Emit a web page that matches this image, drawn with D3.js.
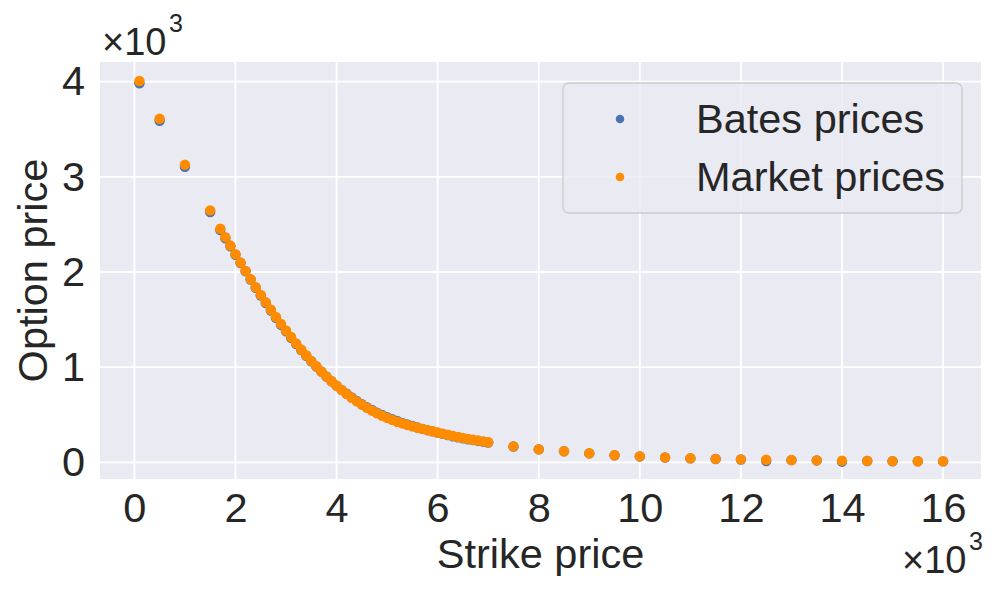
<!DOCTYPE html>
<html>
<head>
<meta charset="utf-8">
<script src="https://cdn.jsdelivr.net/npm/d3@7.9.0/dist/d3.min.js"></script>
<style>
  html, body { margin: 0; padding: 0; background: #fff; }
  svg { display: block; font-family: Arial, "Liberation Sans", sans-serif; }
  .tick text { fill: #262626; }
</style>
</head>
<body>
<div id="chart"></div>
<script>
// strike prices (x axis)
const strikes = [
  100, 500, 1000, 1500,
  1700, 1800, 1900, 2000, 2100, 2200, 2300, 2400, 2500, 2600,
  2700, 2800, 2900, 3000, 3100, 3200, 3300, 3400, 3500, 3600,
  3700, 3800, 3900, 4000, 4100, 4200, 4300, 4400, 4500, 4600,
  4700, 4800, 4900, 5000, 5100, 5200, 5300, 5400, 5500, 5600,
  5700, 5800, 5900, 6000, 6100, 6200, 6300, 6400, 6500, 6600,
  6700, 6800, 6900, 7000,
  7500, 8000, 8500, 9000, 9500, 10000, 10500, 11000, 11500, 12000,
  12500, 13000, 13500, 14000, 14500, 15000, 15500, 16000,
];

const marketPrices = [
  4007, 3611, 3128, 2648,
  2455, 2366, 2278, 2188, 2100, 2012, 1925, 1840, 1760, 1682,
  1604, 1528, 1455, 1385, 1317, 1250, 1186, 1125, 1066, 1010,
  955, 902, 852, 805, 760, 718, 678, 641, 606, 574,
  544, 516, 490, 467, 446, 427, 409, 393, 378, 364,
  351, 338, 326, 314, 302, 290, 278, 267, 257, 247,
  238, 229, 220, 211,
  168, 137, 117, 95, 75, 63, 52, 43, 36, 31,
  27, 24, 21, 18, 15, 13, 12, 11,
];

const batesPrices = [
  3983, 3590, 3105, 2630,
  2441, 2354, 2270, 2182, 2095, 2008, 1921, 1835, 1753, 1674,
  1596, 1519, 1446, 1377, 1309, 1243, 1180, 1120, 1062, 1007,
  953, 901, 852, 806, 762, 721, 681, 645, 611, 579,
  550, 522, 497, 474, 453, 434, 415, 398, 382, 367,
  352, 338, 325, 312, 299, 286, 274, 263, 252, 243,
  234, 225, 217, 209,
  167, 136, 116, 94, 74, 62, 51, 42, 35, 30,
  14, 23, 20, 7, 14, 12, 11, 10,
];

const xTicks = [0, 2000, 4000, 6000, 8000, 10000, 12000, 14000, 16000];
const yTicks = [0, 1000, 2000, 3000, 4000];

const seriesNames = ['Bates prices', 'Market prices'];
const seriesColors = ['#4c72b0', '#ff8c00'];

const width = 1000;
const height = 600;
const plot = { left: 100, right: 981, top: 62, bottom: 479 };
const fontSize = 41.5;

const svg = d3.select('#chart')
  .append('svg')
  .attr('width', width)
  .attr('height', height);

const xScale = d3.scaleLinear().domain([-680, 16750]).range([plot.left, plot.right]);
const yScale = d3.scaleLinear().domain([-175, 4207]).range([plot.bottom, plot.top]);

// axes background
svg.append('rect')
  .attr('x', plot.left)
  .attr('y', plot.top)
  .attr('width', plot.right - plot.left)
  .attr('height', plot.bottom - plot.top)
  .attr('fill', '#eaeaf2');

// grid
const grid = svg.append('g').attr('class', 'grid');
grid.selectAll('line.gx')
  .data(xTicks)
  .join('line')
  .attr('class', 'gx')
  .attr('x1', d => xScale(d)).attr('x2', d => xScale(d))
  .attr('y1', plot.top).attr('y2', plot.bottom)
  .attr('stroke', '#fff').attr('stroke-width', 1.8);
grid.selectAll('line.gy')
  .data(yTicks)
  .join('line')
  .attr('class', 'gy')
  .attr('y1', d => yScale(d)).attr('y2', d => yScale(d))
  .attr('x1', plot.left).attr('x2', plot.right)
  .attr('stroke', '#fff').attr('stroke-width', 1.8);

// axes (tick labels only, seaborn darkgrid style)
const xAxis = d3.axisBottom(xScale)
  .tickValues(xTicks)
  .tickSize(0)
  .tickPadding(14)
  .tickFormat(d => d / 1000);
const gx = svg.append('g')
  .attr('transform', `translate(0, ${plot.bottom})`)
  .call(xAxis);
gx.select('.domain').remove();
gx.selectAll('text').attr('font-size', fontSize).attr('font-family', 'Arial, "Liberation Sans", sans-serif');

const yAxis = d3.axisLeft(yScale)
  .tickValues(yTicks)
  .tickSize(0)
  .tickPadding(15)
  .tickFormat(d => d / 1000);
const gy = svg.append('g')
  .attr('transform', `translate(${plot.left}, 0)`)
  .call(yAxis);
gy.select('.domain').remove();
gy.selectAll('text').attr('font-size', fontSize).attr('font-family', 'Arial, "Liberation Sans", sans-serif');

// points
const series = [batesPrices, marketPrices];
series.forEach((values, i) => {
  svg.append('g')
    .selectAll('circle')
    .data(strikes.map((k, j) => ({ k, v: values[j] })))
    .join('circle')
    .attr('cx', d => xScale(d.k))
    .attr('cy', d => yScale(d.v))
    .attr('r', 5.2)
    .attr('fill', seriesColors[i]);
});

// axis labels
svg.append('text')
  .attr('x', (plot.left + plot.right) / 2)
  .attr('y', 568)
  .attr('text-anchor', 'middle')
  .attr('font-size', fontSize)
  .attr('fill', '#262626')
  .text('Strike price');

svg.append('text')
  .attr('transform', `translate(47, ${(plot.top + plot.bottom) / 2}) rotate(-90)`)
  .attr('text-anchor', 'middle')
  .attr('font-size', fontSize)
  .attr('fill', '#262626')
  .text('Option price');

// offset texts (x10^3)
function offsetText(xStart, baseline) {
  const g = svg.append('g').attr('fill', '#262626');
  g.append('text')
    .attr('x', xStart)
    .attr('y', baseline)
    .attr('font-size', 38)
    .text('\u00d710');
  g.append('text')
    .attr('x', xStart + 67)
    .attr('y', baseline - 23)
    .attr('font-size', 25)
    .text('3');
}
offsetText(102, 55);
offsetText(902, 573);

// legend
const legend = svg.append('g');
legend.append('rect')
  .attr('x', 563).attr('y', 83)
  .attr('width', 399).attr('height', 130)
  .attr('rx', 6)
  .attr('fill', '#eaeaf2').attr('fill-opacity', 0.8)
  .attr('stroke', '#cccccc').attr('stroke-width', 1.3);
seriesNames.forEach((name, i) => {
  const cy = 119 + i * 58;
  legend.append('circle')
    .attr('cx', 620).attr('cy', cy).attr('r', 4.3)
    .attr('fill', seriesColors[i]);
  legend.append('text')
    .attr('x', 696).attr('y', cy + 14)
    .attr('font-size', fontSize)
    .attr('fill', '#262626')
    .text(name);
});
</script>
</body>
</html>
